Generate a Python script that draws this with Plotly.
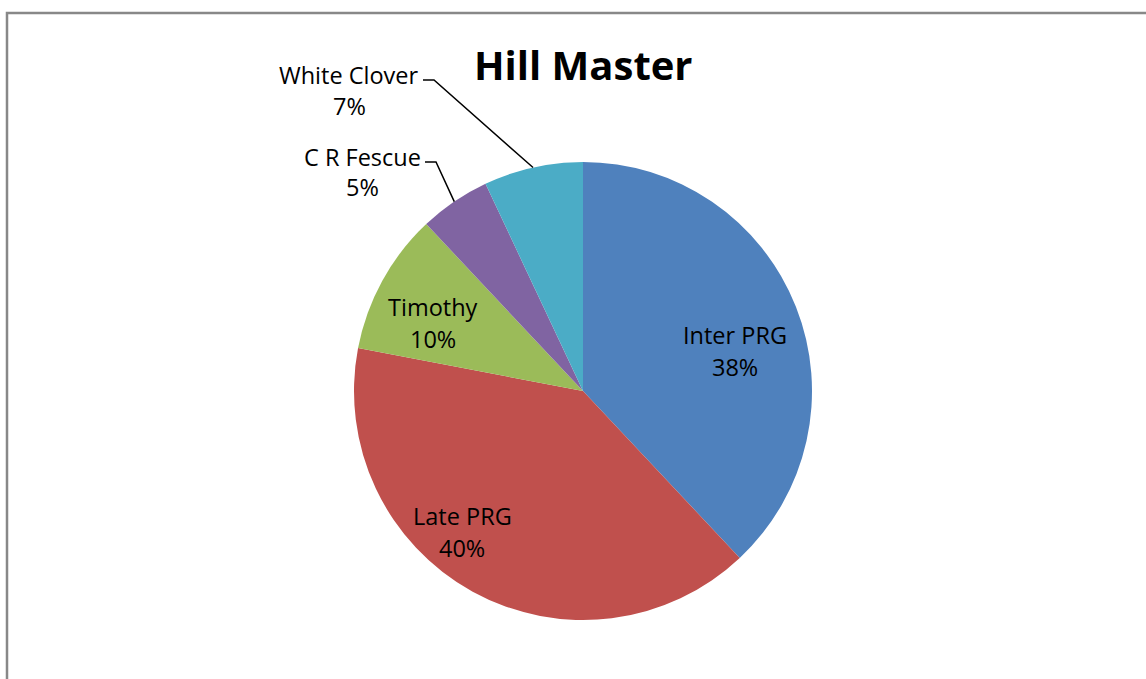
import math
import plotly.graph_objects as go

# ---- data ----
labels = ["Inter PRG", "Late PRG", "Timothy", "C R Fescue", "White Clover"]
values = [38, 40, 10, 5, 7]
colors = ["#4F81BD", "#C0504D", "#9BBB59", "#8064A2", "#4BACC6"]
title_text = "Hill Master"

# ---- layout (pixels, in screen coordinates) ----
W, H = 1146, 679
OFF = 0  # page body margin removed via post_script
cx, cy, R = 583, 391, 229
FONT = "Open Sans"

def px(x):
    return (x - OFF) / W

def py(y):
    return 1 - (y - OFF) / H

# label text centres (x, name line y, pct line y) in pixels
label_pos = {
    "Inter PRG": (735, 335, 367),
    "Late PRG": (462, 516, 548),
    "Timothy": (433, 307, 339),
    "C R Fescue": (362, 157, 187),
    "White Clover": (349, 75, 106),
}
# leader-line elbows for outside labels: (start x, end x, y)
leaders = {
    "C R Fescue": (425, 436, 162),
    "White Clover": (423, 434, 80),
}

fig = go.Figure(go.Pie(
    labels=labels, values=values, sort=False, direction="clockwise",
    rotation=0, marker=dict(colors=colors, line=dict(width=0)),
    textinfo="none", hoverinfo="label+percent", showlegend=False,
    domain=dict(x=[px(cx - R), px(cx + R)], y=[py(cy + R), py(cy - R)]),
))

total = sum(values)
annotations = []
shapes = []
cum = 0
for lab, v in zip(labels, values):
    mid = (cum + v / 2) / total * 2 * math.pi
    cum += v
    pct = f"{round(100 * v / total)}%"
    lx, ny, pyy = label_pos[lab]
    for txt, yy in ((lab, ny), (pct, pyy)):
        annotations.append(dict(
            x=px(lx), y=py(yy), xref="paper", yref="paper", text=txt,
            showarrow=False, xanchor="center", yanchor="middle",
            font=dict(family=FONT, size=23.5, color="#000000"),
        ))
    if lab in leaders:
        x0, x1, ly = leaders[lab]
        ex = cx + R * math.sin(mid)
        ey = cy - R * math.cos(mid)
        path = (f"M {px(x0)} {py(ly)} L {px(x1)} {py(ly)} "
                f"L {px(ex)} {py(ey)}")
        shapes.append(dict(type="path", path=path, xref="paper", yref="paper",
                           line=dict(color="#000000", width=1.5)))

annotations.append(dict(
    x=px(583), y=py(64), xref="paper", yref="paper", text=f"<b>{title_text}</b>",
    showarrow=False, xanchor="center", yanchor="middle",
    font=dict(family=FONT, size=40, color="#000000"),
))

shapes.append(dict(type="rect", xref="paper", yref="paper",
                   x0=px(7), x1=1.2, y0=-0.2, y1=py(13),
                   line=dict(color="#888888", width=2.5), layer="below"))

fig.update_layout(
    width=W, height=H, margin=dict(l=0, r=0, t=0, b=0),
    paper_bgcolor="#ffffff", plot_bgcolor="#ffffff",
    annotations=annotations, shapes=shapes,
)

fig.write_html("out.html", config={"displayModeBar": False},
               post_script="document.body.style.margin='0px';document.body.style.overflow='hidden';")
